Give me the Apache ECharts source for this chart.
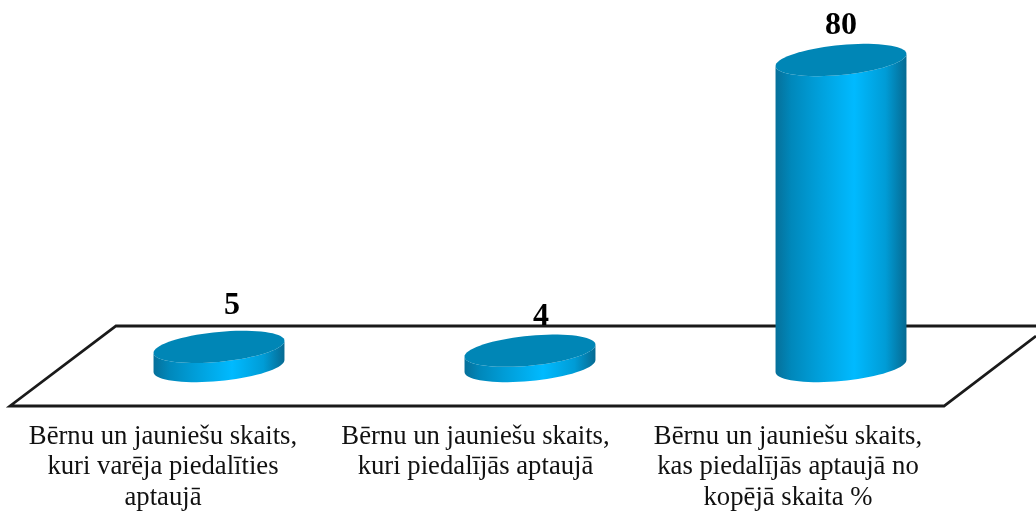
<!DOCTYPE html>
<html>
<head>
<meta charset="utf-8">
<style>html,body{margin:0;padding:0;background:#fff}#c{width:1036px;height:513px}</style>
<script src="https://cdn.jsdelivr.net/npm/echarts@6/dist/echarts.min.js"></script>
</head>
<body>
<div id="c"></div>
<script>
const categories = [
  "Bērnu un jauniešu skaits,\nkuri varēja piedalīties\naptaujā",
  "Bērnu un jauniešu skaits,\nkuri piedalījās aptaujā",
  "Bērnu un jauniešu skaits,\nkas piedalījās aptaujā no\nkopējā skaita %"
];
const values = [5, 4, 80];

// Style and layout constants, kept apart from the data
const labelNudgeX = [13, 11, 0];
const labelGapY = [41, 34, 34];
const barShare = 0.421;
const ellipseB = 15, ellipseShear = 6;
const lineColor = '#1a1a1a';

const chart = echarts.init(document.getElementById('c'), null, {renderer: 'canvas'});

function ellipsePt(cx, cy, a, t) {
  return [cx + a * Math.cos(t), cy + ellipseB * Math.sin(t) - ellipseShear * Math.cos(t)];
}

function renderCylinder(params, api) {
  const idx = api.value(0);
  const val = api.value(1);
  const top = api.coord([idx, val]);
  const base = api.coord([idx, 0]);
  const a = api.size([1, 0])[0] * barShare / 2;
  const N = 72;
  const topPts = [], bodyPts = [];
  for (let i = 0; i < N; i++) topPts.push(ellipsePt(top[0], top[1], a, i / N * Math.PI * 2));
  // body: upper contour follows the top ellipse's front half, lower contour the base ellipse's front half
  for (let i = 0; i <= N / 2; i++) bodyPts.push(ellipsePt(base[0], base[1], a, i / (N / 2) * Math.PI));
  for (let i = 0; i <= N / 2; i++) bodyPts.push(ellipsePt(top[0], top[1], a, Math.PI - i / (N / 2) * Math.PI));
  return {
    type: 'group',
    children: [
      {
        type: 'polygon',
        shape: {points: bodyPts},
        style: {
          fill: new echarts.graphic.LinearGradient(0, 0, 1, 0, [
            {offset: 0, color: '#06709a'},
            {offset: 0.12, color: '#0088bb'},
            {offset: 0.3, color: '#009cd6'},
            {offset: 0.6, color: '#00baff'},
            {offset: 0.84, color: '#009cd6'},
            {offset: 1, color: '#066a92'}
          ])
        }
      },
      {
        type: 'polygon',
        shape: {points: topPts},
        style: {fill: '#0086b6'}
      },
      {
        type: 'text',
        style: {
          x: top[0] + labelNudgeX[idx],
          y: top[1] - labelGapY[params.dataIndex],
          text: String(val),
          fill: '#000',
          font: 'bold 32px "Liberation Serif", serif',
          textAlign: 'center',
          textVerticalAlign: 'middle'
        }
      }
    ]
  };
}

chart.setOption({
  animation: false,
  backgroundColor: '#fff',
  graphic: {
    elements: [{
      type: 'polyline',
      z: 0,
      silent: true,
      shape: {points: [[1036, 336], [944, 406], [10, 406], [116, 326], [1036, 326]]},
      style: {stroke: lineColor, lineWidth: 2.8, fill: null}
    }]
  },
  grid: [
    {left: 63.5, width: 933, top: 60, bottom: 147},
    {left: 6.75, width: 937.5, top: 326, bottom: 107}
  ],
  xAxis: [
    {type: 'category', gridIndex: 0, data: categories, show: false},
    {
      type: 'category', gridIndex: 1, data: categories,
      axisLine: {show: false}, axisTick: {show: false},
      axisLabel: {
        interval: 0, margin: 21, lineHeight: 30.5,
        fontFamily: '"Liberation Serif", serif', fontSize: 26.7, color: '#111'
      }
    }
  ],
  yAxis: [
    {type: 'value', gridIndex: 0, min: 0, max: 80, show: false},
    {type: 'value', gridIndex: 1, min: 0, max: 80, show: false}
  ],
  series: [{
    type: 'custom',
    xAxisIndex: 0, yAxisIndex: 0,
    z: 5,
    clip: false,
    encode: {x: 0, y: 1},
    renderItem: renderCylinder,
    data: values.map((v, i) => [i, v])
  }]
});
</script>
</body>
</html>
